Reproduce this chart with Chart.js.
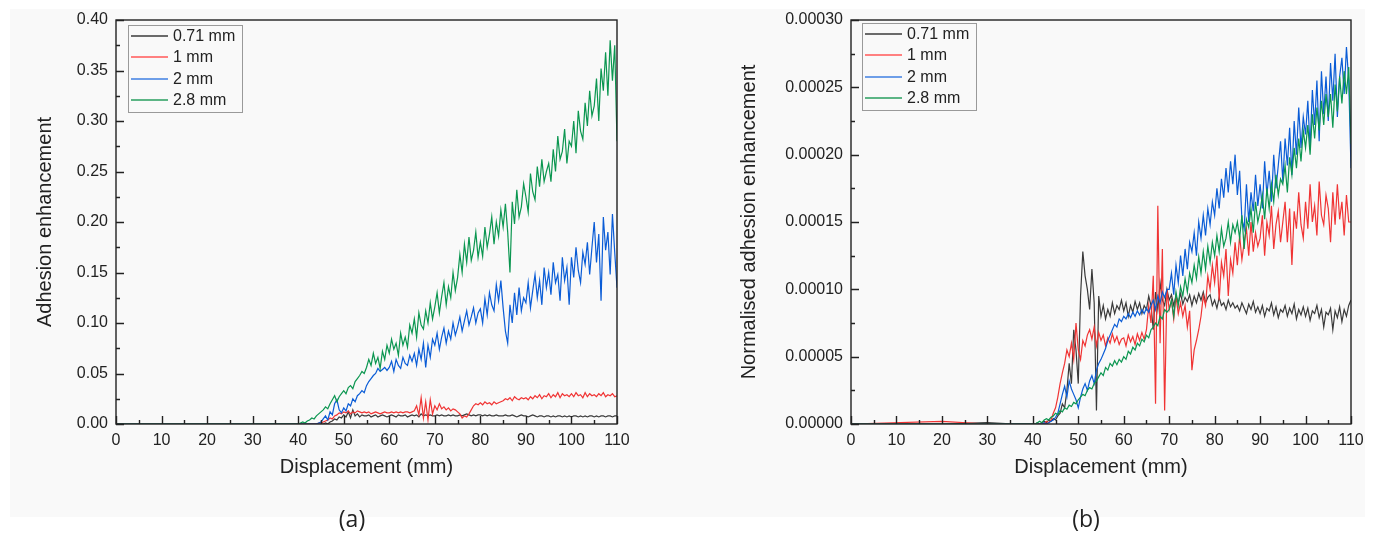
<!DOCTYPE html>
<html>
<head>
<meta charset="utf-8">
<script src="https://cdn.jsdelivr.net/npm/chart.js@4.4.0/dist/chart.umd.min.js"></script>
<style>
  body { margin: 0; background: #fff; width: 1373px; height: 534px; position: relative; overflow: hidden; }
  #panel { position: absolute; left: 10px; top: 9px; width: 1355px; height: 508px; background: #f9f9f9; }
  .box { position: absolute; top: 0; height: 534px; }
  .tag { position: absolute; top: 502px; font: 23px "Open Sans", "Liberation Sans", sans-serif; color: #222; transform: translateX(-50%); }
</style>
</head>
<body>
<div id="panel"></div>
<div class="box" style="left:0;width:686px"><canvas id="chartA"></canvas></div>
<div class="box" style="left:686px;width:687px"><canvas id="chartB"></canvas></div>
<div class="tag" style="left:352px">(a)</div>
<div class="tag" style="left:1086px">(b)</div>
<script>
// displacement grid (mm)
const displacement = [0, 20, 30, 36,
  40, 40.5, 41, 41.5, 42, 42.5, 43, 43.5, 44, 44.5,
  45, 45.5, 46, 46.5, 47, 47.5, 48, 48.5, 49, 49.5,
  50, 50.5, 51, 51.5, 52, 52.5, 53, 53.5, 54, 54.5,
  55, 55.5, 56, 56.5, 57, 57.5, 58, 58.5, 59, 59.5,
  60, 60.5, 61, 61.5, 62, 62.5, 63, 63.5, 64, 64.5,
  65, 65.5, 66, 66.5, 67, 67.5, 68, 68.5, 69, 69.5,
  70, 70.5, 71, 71.5, 72, 72.5, 73, 73.5, 74, 74.5,
  75, 75.5, 76, 76.5, 77, 77.5, 78, 78.5, 79, 79.5,
  80, 80.5, 81, 81.5, 82, 82.5, 83, 83.5, 84, 84.5,
  85, 85.5, 86, 86.5, 87, 87.5, 88, 88.5, 89, 89.5,
  90, 90.5, 91, 91.5, 92, 92.5, 93, 93.5, 94, 94.5,
  95, 95.5, 96, 96.5, 97, 97.5, 98, 98.5, 99, 99.5,
  100, 100.5, 101, 101.5, 102, 102.5, 103, 103.5, 104, 104.5,
  105, 105.5, 106, 106.5, 107, 107.5, 108, 108.5, 109, 109.5,
  110];

const labels = ['0.71 mm', '1 mm', '2 mm', '2.8 mm'];
const colors = ['#3a3a3a', '#f03434', '#0a5cd6', '#0b9650'];
const legendColors = ['#6a6a6a', '#ff8080', '#6e9ee8', '#5cb585'];
const xTicks = [0, 10, 20, 30, 40, 50, 60, 70, 80, 90, 100, 110];

// (a) adhesion enhancement, in units of 0.001
const unitA = 0.001;
const a071 = [0, 0, 0, 0,
  0, 0, 0, 0, 0, 0, 0, 0, 0, 0,
  0, 0, 1, 0, 2, 3, 5, 4, 7, 6,
  9, 7, 12, 6, 14, 8, 10, 7, 9, 8,
  8, 9, 7, 8, 9, 7, 8, 9, 8, 7,
  8, 9, 8, 7, 9, 8, 8, 9, 7, 8,
  9, 8, 9, 7, 10, 8, 9, 8, 9, 8,
  8, 9, 8, 9, 8, 8, 9, 8, 9, 8,
  8, 9, 8, 9, 10, 9, 8, 9, 8, 9,
  9, 8, 9, 8, 9, 8, 8, 9, 8, 8,
  8, 9, 8, 8, 9, 8, 7, 8, 9, 8,
  8, 7, 8, 9, 8, 7, 8, 8, 7, 8,
  8, 7, 8, 7, 8, 8, 7, 8, 7, 8,
  7, 8, 8, 7, 8, 7, 8, 7, 8, 8,
  7, 8, 7, 8, 8, 7, 8, 8, 7, 8,
  8];
const a1 = [0, 0, 0, 0,
  0, 0, 0, 0, 0, 0, 0, 0, 0, 1,
  1, 2, 3, 4, 6, 5, 8, 9, 11, 10,
  12, 11, 13, 10, 12, 11, 13, 12, 11, 12,
  11, 12, 10, 11, 12, 11, 10, 11, 12, 11,
  11, 12, 11, 12, 11, 12, 11, 12, 12, 11,
  12, 13, 18, 9, 26, 6, 22, 4, 24, 10,
  18, 14, 20, 15, 17, 14, 16, 13, 15, 14,
  12, 10, 6, 8, 7, 10, 14, 18, 20, 19,
  21, 19, 22, 20, 21, 19, 22, 20, 21, 22,
  23, 25, 24, 26, 23, 27, 25, 24, 26, 25,
  26, 24, 27, 25, 28, 26, 29, 25, 28, 27,
  30, 26, 29, 27, 31, 26, 30, 28, 29, 27,
  30, 27, 31, 28, 29, 26, 31, 27, 30, 28,
  29, 27, 30, 28, 31, 27, 29, 28, 30, 27,
  28];
const a2 = [0, 0, 0, 0,
  0, 0, 0, 0, 0, 0, 0, 0, 0, 1,
  2, 5, 8, 4, 12, 9, 20, 24, 14, 11,
  16, 13, 20, 18, 25, 22, 28, 30, 33, 31,
  38, 42, 45, 48, 50, 55, 52, 54, 56, 53,
  56, 62, 52, 64, 58, 55, 66, 60, 58, 68,
  62, 70, 58, 74, 64, 80, 56, 78, 66, 84,
  78, 90, 74, 86, 95, 80, 92, 84, 100, 88,
  96, 106, 92, 102, 112, 98, 106, 115, 100, 110,
  114, 100, 124, 108, 130, 118, 112, 138, 122, 142,
  115, 92, 80, 118, 100, 130, 108, 135, 112, 125,
  120, 140, 115, 132, 148, 125, 142, 118, 155, 135,
  150, 128, 160, 140, 148, 122, 165, 142, 155, 118,
  165, 145, 175, 152, 140, 170, 158, 180, 148, 175,
  200, 160, 188, 122, 205, 172, 190, 148, 208, 170,
  135];
const a28 = [0, 0, 0, 0,
  0, 1, 2, 1, 3, 4, 6, 5, 8, 10,
  12, 14, 17, 15, 20, 24, 28, 22, 27, 30,
  33, 30, 36, 38, 35, 42, 45, 48, 52, 50,
  56, 64, 58, 70, 60, 66, 55, 72, 64, 78,
  70, 84, 74, 80, 68, 90, 78, 86, 76, 98,
  90, 104, 86, 110, 98, 94, 112, 100, 120, 104,
  116, 130, 110, 126, 140, 118, 136, 125, 150, 132,
  145, 168, 150, 178, 160, 185, 162, 172, 190, 165,
  180, 166, 195, 175, 188, 205, 178, 200, 186, 212,
  195, 218, 190, 150, 220, 198, 232, 205, 215, 238,
  225, 210, 248, 230, 222, 255, 235, 262, 240, 250,
  258, 240, 272, 250, 285, 262, 270, 292, 258, 280,
  275, 300, 268, 310, 290, 282, 318, 295, 330, 305,
  315, 342, 300, 352, 330, 368, 325, 380, 340, 375,
  280];
const yTicksA = [0, 0.05, 0.10, 0.15, 0.20, 0.25, 0.30, 0.35, 0.40];

// (b) normalised adhesion enhancement, in units of 1e-6
const unitB = 1e-6;
const b071 = [0, 0, 1, 0,
  0, 0, 1, 0, 1, 2, 1, 3, 2, 4,
  3, 6, 8, 15, 12, 25, 45, 30, 70, 55,
  30, 95, 128, 110, 100, 85, 115, 90, 10, 95,
  80, 88, 78, 85, 80, 90, 82, 88, 85, 92,
  84, 90, 80, 88, 83, 91, 85, 90, 82, 88,
  85, 95, 88, 70, 98, 85, 105, 92, 88, 100,
  92, 96, 88, 95, 90, 97, 89, 94, 91, 96,
  88, 95, 90, 97, 92, 98, 90, 94, 96, 88,
  92, 86, 94, 88, 90, 85, 92, 87, 90, 86,
  88, 84, 90, 86, 82, 89, 85, 91, 83, 87,
  82, 88, 80, 86, 84, 90, 81, 87, 79, 85,
  83, 88, 80, 86, 82, 89, 78, 85, 81, 87,
  80, 86, 77, 84, 82, 88, 79, 85, 72, 83,
  81, 86, 70, 84, 79, 87, 76, 85, 80, 88,
  92];
const b1 = [0, 2, 0, 0,
  0, 0, 0, 0, 1, 0, 2, 1, 3, 8,
  12, 20, 30, 38, 45, 55, 50, 60, 48, 75,
  55, 48, 62, 58, 66, 70, 63, 72, 58, 68,
  62, 66, 58, 64, 60, 67, 61, 65, 59, 63,
  64, 58, 66, 61, 65, 59, 67, 62, 68, 63,
  70, 88, 75, 110, 15, 162, 60, 130, 10, 100,
  85, 92, 78, 95, 82, 90, 80, 88, 72, 84,
  40, 55, 62, 70, 80, 95, 88, 110, 100, 118,
  105, 125, 92, 120, 110, 130, 95, 122, 112, 135,
  118, 140, 122, 135, 145, 125, 150, 128, 142, 132,
  138, 155, 125, 150, 140, 162, 130, 148, 158, 135,
  150, 165, 135, 160, 118, 158, 145, 172, 148, 138,
  165, 145, 178, 150, 162, 140, 180, 155, 148, 170,
  160, 135, 172, 148, 178, 152, 165, 140, 170, 150,
  150];
const b2 = [0, 0, 0, 0,
  0, 0, 0, 0, 0, 1, 0, 1, 2, 3,
  5, 8, 15, 22, 28, 20, 32, 26, 22, 18,
  12, 20, 26, 30, 25, 32, 36, 30, 40, 45,
  48, 52, 56, 62, 66, 70, 74, 72, 78, 76,
  80, 78, 82, 79, 83, 80, 84, 81, 85, 82,
  86, 83, 88, 92, 85, 95, 90, 98, 94, 100,
  100, 112, 96, 118, 105, 125, 110, 130, 115, 135,
  128, 142, 125, 150, 138, 155, 140, 160, 148, 165,
  155, 175, 160, 182, 168, 190, 172, 195, 178, 200,
  170, 188, 152, 145, 178, 150, 172, 158, 185, 162,
  178, 160, 195, 170, 188, 165, 200, 175, 192, 210,
  180, 212, 192, 220, 185, 225, 200, 235, 205, 228,
  215, 240, 205, 248, 222, 255, 210, 262, 230, 258,
  225, 268, 240, 275, 228, 258, 272, 245, 280, 255,
  190];
const b28 = [0, 0, 0, 0,
  0, 0, 1, 2, 1, 3, 4, 3, 5, 6,
  8, 7, 10, 9, 12, 11, 14, 13, 16, 15,
  18, 20, 22, 21, 25, 27, 26, 30, 32, 35,
  38, 36, 42, 40, 45, 43, 47, 44, 48, 46,
  50, 48, 54, 52, 57, 55, 60, 58, 63, 61,
  66, 64, 70, 72, 75, 73, 80, 78, 85, 83,
  85, 92, 80, 98, 88, 102, 95, 108, 98, 112,
  105, 118, 108, 124, 112, 128, 115, 132, 120, 135,
  125, 140, 128, 145, 132, 138, 150, 135, 148, 142,
  150, 138, 155, 130, 152, 146, 160, 142, 165, 150,
  158, 170, 152, 175, 160, 178, 165, 185, 170, 182,
  178, 192, 172, 198, 185, 205, 190, 212, 195, 218,
  205, 222, 200, 230, 212, 235, 218, 240, 222, 245,
  228, 245, 220, 252, 232, 258, 238, 262, 245, 265,
  208];
const yTicksB = [0, 0.00005, 0.00010, 0.00015, 0.00020, 0.00025, 0.00030];

const tickFont = { family: '"Liberation Sans", Arial, sans-serif', size: 16 };
const titleFont = { family: '"Liberation Sans", Arial, sans-serif', size: 20 };

// Origin-style frame with inward major/minor ticks
const frameTicks = {
  id: 'frameTicks',
  afterDatasetsDraw(chart) {
    const { ctx, chartArea: a, scales: { x, y } } = chart;
    const yt = chart.options.plugins.frameTicks.yTicks;
    ctx.save();
    ctx.strokeStyle = '#222';
    ctx.lineWidth = 1.4;
    ctx.strokeRect(a.left, a.top, a.right - a.left, a.bottom - a.top);
    ctx.beginPath();
    xTicks.forEach((v, i) => {
      const px = Math.round(x.getPixelForValue(v)) + 0.5;
      ctx.moveTo(px, a.bottom); ctx.lineTo(px, a.bottom - 8);
      if (i < xTicks.length - 1) {
        const pm = Math.round(x.getPixelForValue((v + xTicks[i + 1]) / 2)) + 0.5;
        ctx.moveTo(pm, a.bottom); ctx.lineTo(pm, a.bottom - 4);
      }
    });
    yt.forEach((v, i) => {
      const py = Math.round(y.getPixelForValue(v)) + 0.5;
      ctx.moveTo(a.left, py); ctx.lineTo(a.left + 8, py);
      if (i < yt.length - 1) {
        const pm = Math.round(y.getPixelForValue((v + yt[i + 1]) / 2)) + 0.5;
        ctx.moveTo(a.left, pm); ctx.lineTo(a.left + 4, pm);
      }
    });
    ctx.stroke();
    ctx.restore();
  }
};

// legend box inside the plot, top-left
const insideLegend = {
  id: 'insideLegend',
  afterDraw(chart) {
    const { ctx, chartArea: a } = chart;
    const o = chart.options.plugins.insideLegend;
    const bx = a.left + o.dx, by = a.top + o.dy;
    ctx.save();
    ctx.fillStyle = '#f9f9f9';
    ctx.fillRect(bx, by, 114, 87);
    ctx.strokeStyle = '#9a9a9a';
    ctx.lineWidth = 1;
    ctx.strokeRect(bx + 0.5, by + 0.5, 114, 87);
    ctx.font = '16px "Liberation Sans", Arial, sans-serif';
    ctx.textBaseline = 'middle';
    chart.data.datasets.forEach((ds, i) => {
      const ry = Math.round(by + 11 + i * 21.3);
      ctx.strokeStyle = legendColors[i];
      ctx.lineWidth = 2;
      ctx.beginPath();
      ctx.moveTo(bx + 3, ry); ctx.lineTo(bx + 40, ry);
      ctx.stroke();
      ctx.fillStyle = '#222';
      ctx.fillText(ds.label, bx + 45, ry + 1);
    });
    ctx.restore();
  }
};

function makeDatasets(series, unit) {
  return series.map((s, i) => ({
    label: labels[i],
    data: displacement.map((d, k) => ({ x: d, y: s[k] * unit })),
    borderColor: colors[i],
    borderWidth: 1.2,
    pointRadius: 0,
    tension: 0,
    order: series.length - i
  }));
}

function makeChart(id, datasets, opt) {
  return new Chart(document.getElementById(id), {
    type: 'line',
    data: { datasets },
    options: {
      responsive: true,
      maintainAspectRatio: false,
      animation: false,
      events: [],
      layout: { padding: { left: 0, right: opt.padRight, top: 20, bottom: 50 } },
      plugins: {
        legend: { display: false },
        tooltip: { enabled: false },
        frameTicks: { yTicks: opt.yTicks },
        insideLegend: { dx: opt.legendDx, dy: opt.legendDy }
      },
      scales: {
        x: {
          type: 'linear', min: 0, max: 110,
          afterBuildTicks: (s) => { s.ticks = xTicks.map(v => ({ value: v })); },
          afterFit: (s) => { s.height = 60; },
          grid: { display: false, drawTicks: false },
          border: { display: false },
          ticks: { font: tickFont, color: '#222', padding: 7, maxRotation: 0 },
          title: { display: true, text: 'Displacement (mm)', font: titleFont, color: '#222', padding: { top: 0, bottom: 5 } }
        },
        y: {
          min: 0, max: opt.yMax,
          afterBuildTicks: (s) => { s.ticks = opt.yTicks.map(v => ({ value: v })); },
          afterFit: (s) => { s.width = opt.yWidth; },
          grid: { display: false, drawTicks: false },
          border: { display: false },
          ticks: { font: tickFont, color: '#222', padding: 8, callback: (v) => v.toFixed(opt.digits) },
          title: { display: true, text: opt.yTitle, font: titleFont, color: '#222', padding: { top: opt.titlePad, bottom: 0 } }
        }
      }
    },
    plugins: [frameTicks, insideLegend]
  });
}

makeChart('chartA', makeDatasets([a071, a1, a2, a28], unitA), {
  yMax: 0.40, yTicks: yTicksA, digits: 2, yWidth: 116, padRight: 69,
  yTitle: 'Adhesion enhancement', titlePad: 33, legendDx: 12, legendDy: 5
});
makeChart('chartB', makeDatasets([b071, b1, b2, b28], unitB), {
  yMax: 0.0003, yTicks: yTicksB, digits: 5, yWidth: 165, padRight: 22,
  yTitle: 'Normalised adhesion enhancement', titlePad: 51, legendDx: 11, legendDy: 3
});
</script>
</body>
</html>
